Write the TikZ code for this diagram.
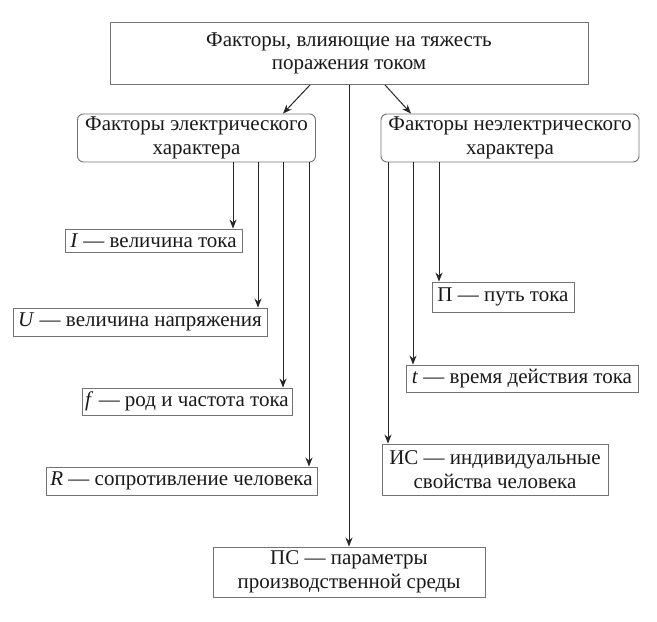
\documentclass[tikz,border=0pt]{standalone}
\usepackage{fontspec}
\setmainfont{Liberation Serif}
\usetikzlibrary{arrows.meta}
\begin{document}
\begin{tikzpicture}[x=1pt,y=-1pt,
  box/.style={draw=black!55, line width=0.9pt, align=center, inner sep=0pt, text=black!90,
    font=\fontsize{21}{23.5}\selectfont},
  rbox/.style={box, rounded corners=6pt},
  arr/.style={draw=black!85, line width=1pt, -{Stealth[length=9pt,width=7pt]}},
  ln/.style={draw=black!85, line width=1pt}]
\useasboundingbox (0,0) rectangle (657,622);
\node[box, minimum width=478pt, minimum height=62pt] (top) at (349,53.5) {Факторы, влияющие на тяжесть\\поражения током};
\node[rbox, minimum width=238pt, minimum height=48pt] (el) at (196.5,138) {Факторы электрического\\характера};
\node[rbox, minimum width=258pt, minimum height=48pt] (nel) at (510,138) {Факторы неэлектрического\\характера};
\node[box, minimum width=177pt, minimum height=23pt] (I) at (153.5,240.5) {\textit{I} — величина тока};
\node[box, minimum width=254pt, minimum height=28pt] (U) at (140,322) {\textit{U} — величина напряжения};
\node[box, minimum width=210pt, minimum height=27pt] (f) at (187,401.5) {\textit{f} — род и частота тока};
\node[box, minimum width=271pt, minimum height=28pt] (R) at (181.5,481) {\textit{R} — сопротивление человека};
\node[box, minimum width=142pt, minimum height=30pt] (P) at (503,297) {П — путь тока};
\node[box, minimum width=232pt, minimum height=27pt] (t) at (522,378.5) {\textit{t} — время действия тока};
\node[box, minimum width=226pt, minimum height=51pt] (IS) at (495,469.5) {ИС — индивидуальные\\свойства человека};
\node[box, minimum width=272pt, minimum height=50pt] (PS) at (349,572) {ПС — параметры\\производственной среды};
% top arrows
\draw[arr] (310,0 |- top.south) -- (283,0 |- el.north);
\draw[arr] (385,0 |- top.south) -- (411,0 |- nel.north);
\draw[arr] (top.south) -- (PS.north);
% electric
\draw[arr] (233,0 |- el.south) -- (233,0 |- I.north);
\draw[arr] (258,0 |- el.south) -- (258,0 |- U.north);
\draw[arr] (283,0 |- el.south) -- (283,0 |- f.north);
\draw[arr] (309,0 |- el.south) -- (309,0 |- R.north);
% non-electric
\draw[arr] (439,0 |- nel.south) -- (439,0 |- P.north);
\draw[arr] (413,0 |- nel.south) -- (413,0 |- t.north);
\draw[arr] (388,0 |- nel.south) -- (388,0 |- IS.north);
\end{tikzpicture}
\end{document}
